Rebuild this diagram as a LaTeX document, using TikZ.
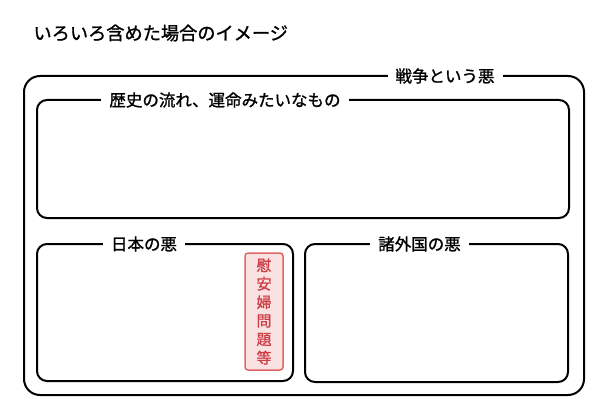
\documentclass[tikz,border=0pt]{standalone}
\usepackage{fontspec}
\setmainfont[FakeBold=1.2]{Noto Sans CJK JP}
\definecolor{redline}{HTML}{E06666}
\definecolor{redfill}{HTML}{FBE2E2}
\definecolor{redtext}{HTML}{CC3F46}
\begin{document}
\begin{tikzpicture}[x=1pt,y=-1pt,
  box/.style={draw=black, line width=2pt, rounded corners=#1, inner sep=0pt},
  lbl/.style={fill=white, inner xsep=8pt, inner ysep=1pt, font=\fontsize{16.5}{19}\selectfont},
]
\useasboundingbox (0,0) rectangle (608,417);
\node[anchor=west, font=\fontsize{18.2}{21}\selectfont] (title) at (30,33) {いろいろ含めた場合のイメージ};
\node[box=16pt, minimum width=560pt, minimum height=319pt] (outer) at (304,235.5) {};
\node[box=10pt, minimum width=532pt, minimum height=118pt] (top) at (303,159) {};
\node[box=10pt, minimum width=256pt, minimum height=137pt] (jp) at (165,312.5) {};
\node[box=10pt, minimum width=263pt, minimum height=138pt] (fr) at (436.5,313) {};
\node[lbl] (outerlbl) at (445,76) {戦争という悪};
\node[lbl] (toplbl) at (225,100) {歴史の流れ、運命みたいなもの};
\node[lbl] (jplbl) at (144,244) {日本の悪};
\node[lbl] (frlbl) at (419.5,244) {諸外国の悪};
\node[draw=redline, fill=redfill, line width=1.5pt, rounded corners=3pt, minimum width=38pt, minimum height=117pt, inner sep=0pt, align=center, text=redtext, font=\fontsize{15}{18.5}\selectfont] (ianfu) at (264,311.5) {慰\\安\\婦\\問\\題\\等};
\end{tikzpicture}
\end{document}
